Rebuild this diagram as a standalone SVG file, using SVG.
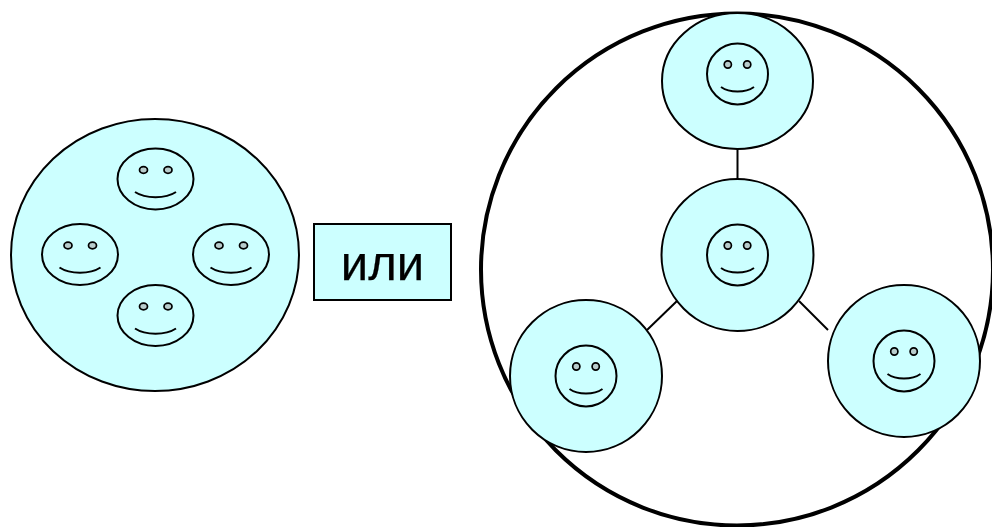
<svg xmlns="http://www.w3.org/2000/svg" xmlns:xlink="http://www.w3.org/1999/xlink" width="992" height="527" viewBox="0 0 992 527">
<style>
.n{fill:#ccffff;stroke:#000;stroke-width:2}
.f{fill:#ccffff;stroke:#000;stroke-width:2}
.e{fill:#b8cccc;stroke:#000;stroke-width:1.700}
.m{fill:none;stroke:#000;stroke-width:2}
.c{fill:none;stroke:#000;stroke-width:2}
.t{font-family:"Liberation Sans",Arial,sans-serif;font-size:49px;fill:#000;stroke:#000;stroke-width:.25;text-anchor:middle}
</style>
<defs>
<g id="oval-face">
<ellipse class="f" cx="0" cy="0" rx="38" ry="30.5"/>
<ellipse class="e" cx="-12" cy="-9" rx="4" ry="3.300"/>
<ellipse class="e" cx="12.500" cy="-9" rx="4" ry="3.300"/>
<path class="m" d="M-20.500 13C-10 20 10 20 20.500 13"/>
</g>
<g id="round-face">
<circle class="f" cx="0" cy="0" r="30.500"/>
<circle class="e" cx="-9.700" cy="-9.500" r="3.600"/>
<circle class="e" cx="9.700" cy="-9.500" r="3.600"/>
<path class="m" d="M-16.500 13C-8 19 8 19 16.500 13"/>
</g>
</defs>
<g id="group-left">
<ellipse class="n" cx="155" cy="255" rx="144" ry="136"/>
<use xlink:href="#oval-face" href="#oval-face" x="155.500" y="179"/>
<use xlink:href="#oval-face" href="#oval-face" x="80" y="254.500"/>
<use xlink:href="#oval-face" href="#oval-face" x="231" y="254.500"/>
<use xlink:href="#oval-face" href="#oval-face" x="155.500" y="315.500"/>
</g>
<g id="or-box">
<rect class="n" x="314" y="224" width="137" height="76"/>
<text class="t" x="382.500" y="280">или</text>
</g>
<g id="outer-circle">
<circle cx="737" cy="269.500" r="256" fill="none" stroke="#000" stroke-width="4"/>
</g>
<g id="connectors">
<path class="c" d="M737.500 149V179"/>
<path class="c" d="M647 330L677 301"/>
<path class="c" d="M799 301L828 330"/>
</g>
<g id="node-top">
<ellipse class="n" cx="737.500" cy="81" rx="75.500" ry="68"/>
<use xlink:href="#round-face" href="#round-face" x="737.500" y="74"/>
</g>
<g id="node-center">
<circle class="n" cx="737.500" cy="255" r="76"/>
<use xlink:href="#round-face" href="#round-face" x="737.500" y="255"/>
</g>
<g id="node-left">
<circle class="n" cx="586" cy="376" r="76"/>
<use xlink:href="#round-face" href="#round-face" x="586" y="376"/>
</g>
<g id="node-right">
<circle class="n" cx="904" cy="361" r="76"/>
<use xlink:href="#round-face" href="#round-face" x="904" y="361"/>
</g>
</svg>
